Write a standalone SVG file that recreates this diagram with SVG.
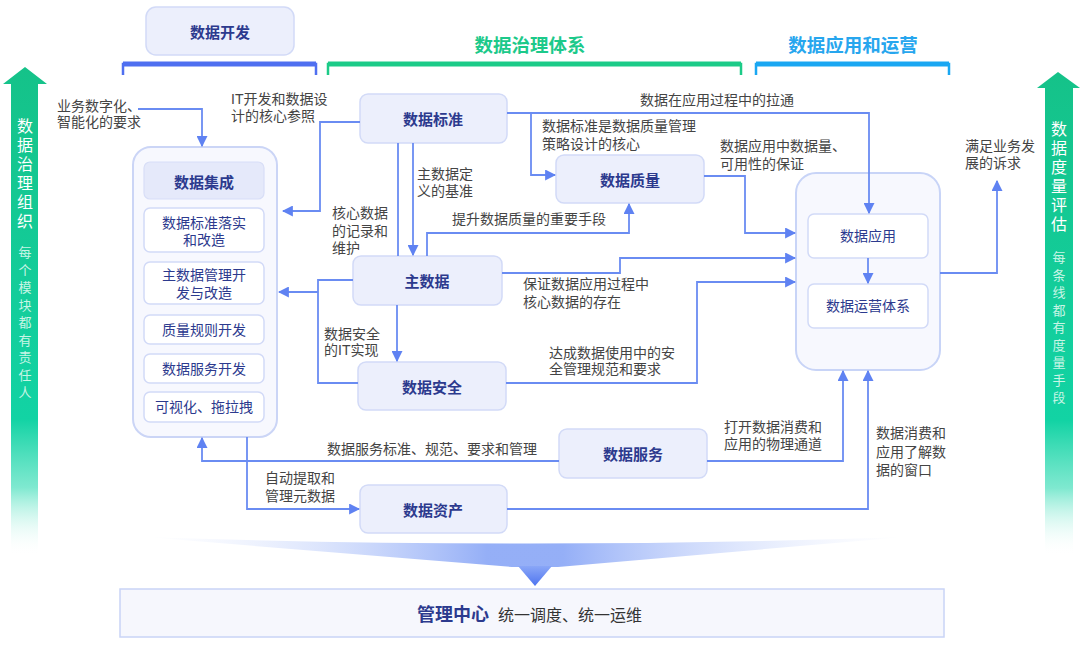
<svg xmlns="http://www.w3.org/2000/svg" width="1080" height="646" viewBox="0 0 1080 646">
<defs>
<style>
text{font-family:"Noto Sans CJK SC","Noto Sans",sans-serif;dominant-baseline:central}
.lb{font-family:"Liberation Sans","Noto Sans CJK SC",sans-serif;font-size:14px;fill:#444}
.nt{font-size:15px;font-weight:bold;fill:#2c3a8e;text-anchor:middle}
.it{font-family:"Liberation Sans","Noto Sans CJK SC",sans-serif;font-size:14px;fill:#2c3a8e;text-anchor:middle}
.node{fill:#eceffc;stroke:#d2daf7;stroke-width:1.5}
.item{fill:#ffffff;stroke:#d2daf7;stroke-width:1.5}
.cn{fill:none;stroke:#6a8cf2;stroke-width:1.8}
.vt{font-size:16px;fill:#ffffff;writing-mode:vertical-rl;letter-spacing:3px}
.vs{font-size:13px;fill:#c8f5e6;writing-mode:vertical-rl;letter-spacing:4.5px}
</style>
<marker id="ah" markerUnits="userSpaceOnUse" markerWidth="11" markerHeight="11" viewBox="0 0 10 10" refX="9" refY="5" orient="auto">
<path d="M0,0 L10,5 L0,10 Z" fill="#5f82f2"/>
</marker>
<linearGradient id="gbar" x1="0" y1="0" x2="0" y2="1">
<stop offset="0" stop-color="#15c289"/>
<stop offset="0.72" stop-color="#12d3a4"/>
<stop offset="0.86" stop-color="#5fe3c4" stop-opacity="0.8"/>
<stop offset="1" stop-color="#ffffff" stop-opacity="0"/>
</linearGradient>
<linearGradient id="beam" x1="0" y1="0" x2="1" y2="0">
<stop offset="0" stop-color="#dfe7fd" stop-opacity="0"/>
<stop offset="0.45" stop-color="#89a6f6" stop-opacity="0.9"/>
<stop offset="0.55" stop-color="#89a6f6" stop-opacity="0.9"/>
<stop offset="1" stop-color="#dfe7fd" stop-opacity="0"/>
</linearGradient>
<linearGradient id="darr" x1="0" y1="0" x2="0" y2="1">
<stop offset="0" stop-color="#8aa7f7"/>
<stop offset="1" stop-color="#4f75f0"/>
</linearGradient>
</defs>
<rect width="1080" height="646" fill="#ffffff"/>

<g id="left-bar">
<path d="M25,67 L47,84 L38,84 L38,556 L11,556 L11,84 L3,84 Z" fill="url(#gbar)"/>
<text class="vt" x="25" y="118">数据治理组织</text>
<text class="vs" x="25" y="246">每个模块都有责任人</text>
</g>
<g id="right-bar">
<path d="M1058,72 L1080,88 L1073,88 L1073,556 L1045,556 L1045,88 L1037,88 Z" fill="url(#gbar)"/>
<text class="vt" x="1059" y="121">数据度量评估</text>
<text class="vs" x="1059" y="251">每条线都有度量手段</text>
</g>

<g id="header-dev">
<rect x="146" y="7" width="148" height="48" rx="10" class="node"/>
<text class="nt" x="220" y="31">数据开发</text>
<path d="M123,75 V64 H316 V75" fill="none" stroke="#4f6ff0" stroke-width="2.5"/>
<path d="M123,64 H316" stroke="#4f6ff0" stroke-width="5"/>
</g>
<g id="header-gov">
<text x="530" y="44" font-size="18.5" font-weight="bold" fill="#1cc98a" text-anchor="middle">数据治理体系</text>
<path d="M328,75 V64 H741 V75" fill="none" stroke="#1ccb88" stroke-width="2.5"/>
<path d="M328,64 H741" stroke="#1ccb88" stroke-width="5"/>
</g>
<g id="header-app">
<text x="853" y="44" font-size="18.5" font-weight="bold" fill="#27a6ee" text-anchor="middle">数据应用和运营</text>
<path d="M756,75 V64 H949 V75" fill="none" stroke="#1aa7f2" stroke-width="2.5"/>
<path d="M756,64 H949" stroke="#1aa7f2" stroke-width="5"/>
</g>

<g id="integration">
<rect x="133" y="147" width="144" height="290" rx="18" fill="#f7f8fe" stroke="#cbd5f6" stroke-width="2"/>
<rect x="144" y="162" width="120" height="37" rx="6" fill="#e5e9fa" stroke="#d8def7" stroke-width="1.2"/>
<text class="nt" x="204" y="181" font-size="16px">数据集成</text>
<rect x="144" y="208" width="120" height="44" rx="6" class="item"/>
<text class="it"><tspan x="204" y="223">数据标准落实</tspan><tspan x="204" y="240">和改造</tspan></text>
<rect x="144" y="262" width="120" height="42" rx="6" class="item"/>
<text class="it"><tspan x="204" y="275">主数据管理开</tspan><tspan x="204" y="293">发与改造</tspan></text>
<rect x="144" y="315" width="120" height="29" rx="6" class="item"/>
<text class="it" x="204" y="330">质量规则开发</text>
<rect x="144" y="354" width="120" height="29" rx="6" class="item"/>
<text class="it" x="204" y="369">数据服务开发</text>
<rect x="144" y="392" width="120" height="30" rx="6" class="item"/>
<text class="it" x="204" y="407">可视化、拖拉拽</text>
</g>

<g id="std"><rect x="360" y="94" width="147" height="49" rx="8" class="node"/><text class="nt" x="433" y="118">数据标准</text></g>
<g id="quality"><rect x="556" y="155" width="148" height="48" rx="8" class="node"/><text class="nt" x="630" y="179">数据质量</text></g>
<g id="master"><rect x="353" y="256" width="149" height="49" rx="8" class="node"/><text class="nt" x="427" y="280">主数据</text></g>
<g id="security"><rect x="358" y="362" width="148" height="48" rx="8" class="node"/><text class="nt" x="432" y="386">数据安全</text></g>
<g id="service"><rect x="559" y="429" width="148" height="49" rx="8" class="node"/><text class="nt" x="633" y="453">数据服务</text></g>
<g id="asset"><rect x="360" y="485" width="147" height="48" rx="8" class="node"/><text class="nt" x="433" y="509">数据资产</text></g>

<g id="application">
<rect x="796" y="173" width="144" height="197" rx="20" fill="#f7f8fe" stroke="#c8d4f7" stroke-width="2"/>
<rect x="808" y="214" width="120" height="44" rx="6" class="item"/>
<text class="it" x="868" y="236">数据应用</text>
<rect x="808" y="284" width="120" height="44" rx="6" class="item"/>
<text class="it" x="868" y="306">数据运营体系</text>
</g>

<g id="mgmt">
<path d="M145,537 Q535,550 905,537 L558,567 L512,567 Z" fill="url(#beam)"/>
<path d="M518,566 L552,566 L535,586 Z" fill="url(#darr)"/>
<rect x="120" y="589" width="824" height="48" fill="#f6f7fd" stroke="#c9d4f6" stroke-width="1.5"/>
<text x="417" y="613" font-size="18" font-weight="bold" fill="#2c3a8e">管理中心</text>
<text x="498" y="614" font-size="16" fill="#333">统一调度、统一运维</text>
</g>

<g id="connectors">
<path class="cn" d="M138,109 H202 V146" marker-end="url(#ah)"/>
<path class="cn" d="M360,122 H320 V211 H283" marker-end="url(#ah)"/>
<path class="cn" d="M398,143 V256"/>
<path class="cn" d="M413,143 V255" marker-end="url(#ah)"/>
<path class="cn" d="M507,113 H869 V213" marker-end="url(#ah)"/>
<path class="cn" d="M531,113 V175 H555" marker-end="url(#ah)"/>
<path class="cn" d="M704,176 H745 V233 H795" marker-end="url(#ah)"/>
<path class="cn" d="M427,256 V233 H629 V204" marker-end="url(#ah)"/>
<path class="cn" d="M502,273 H620 V258 H795" marker-end="url(#ah)"/>
<path class="cn" d="M506,383 H697 V282 H795" marker-end="url(#ah)"/>
<path class="cn" d="M353,280 H318 V383 H358"/>
<path class="cn" d="M318,292 H279" marker-end="url(#ah)"/>
<path class="cn" d="M397,305 V361" marker-end="url(#ah)"/>
<path class="cn" d="M559,461 H202 V438" marker-end="url(#ah)"/>
<path class="cn" d="M247,437 V509 H359" marker-end="url(#ah)"/>
<path class="cn" d="M707,461 H843 V371" marker-end="url(#ah)"/>
<path class="cn" d="M507,509 H868 V371" marker-end="url(#ah)"/>
<path class="cn" d="M940,273 H997 V181" marker-end="url(#ah)"/>
<path class="cn" d="M868,258 V283" marker-end="url(#ah)"/>
</g>

<g id="labels">
<text class="lb"><tspan x="57" y="106">业务数字化、</tspan><tspan x="57" y="122">智能化的要求</tspan></text>
<text class="lb"><tspan x="231" y="99">IT开发和数据设</tspan><tspan x="231" y="116">计的核心参照</tspan></text>
<text class="lb" x="640" y="100">数据在应用过程中的拉通</text>
<text class="lb"><tspan x="542" y="126">数据标准是数据质量管理</tspan><tspan x="542" y="144">策略设计的核心</tspan></text>
<text class="lb"><tspan x="417" y="174">主数据定</tspan><tspan x="417" y="191">义的基准</tspan></text>
<text class="lb"><tspan x="720" y="146">数据应用中数据量、</tspan><tspan x="720" y="164">可用性的保证</tspan></text>
<text class="lb"><tspan x="965" y="146">满足业务发</tspan><tspan x="965" y="163">展的诉求</tspan></text>
<text class="lb"><tspan x="332" y="213">核心数据</tspan><tspan x="332" y="231">的记录和</tspan><tspan x="332" y="248">维护</tspan></text>
<text class="lb" x="452" y="219">提升数据质量的重要手段</text>
<text class="lb"><tspan x="523" y="284">保证数据应用过程中</tspan><tspan x="523" y="302">核心数据的存在</tspan></text>
<text class="lb"><tspan x="324" y="334">数据安全</tspan><tspan x="324" y="350">的IT实现</tspan></text>
<text class="lb"><tspan x="549" y="353">达成数据使用中的安</tspan><tspan x="549" y="369">全管理规范和要求</tspan></text>
<text class="lb" x="327" y="449">数据服务标准、规范、要求和管理</text>
<text class="lb"><tspan x="724" y="427">打开数据消费和</tspan><tspan x="724" y="444">应用的物理通道</tspan></text>
<text class="lb"><tspan x="876" y="433">数据消费和</tspan><tspan x="876" y="452">应用了解数</tspan><tspan x="876" y="470">据的窗口</tspan></text>
<text class="lb"><tspan x="265" y="478">自动提取和</tspan><tspan x="265" y="496">管理元数据</tspan></text>
</g>
</svg>
